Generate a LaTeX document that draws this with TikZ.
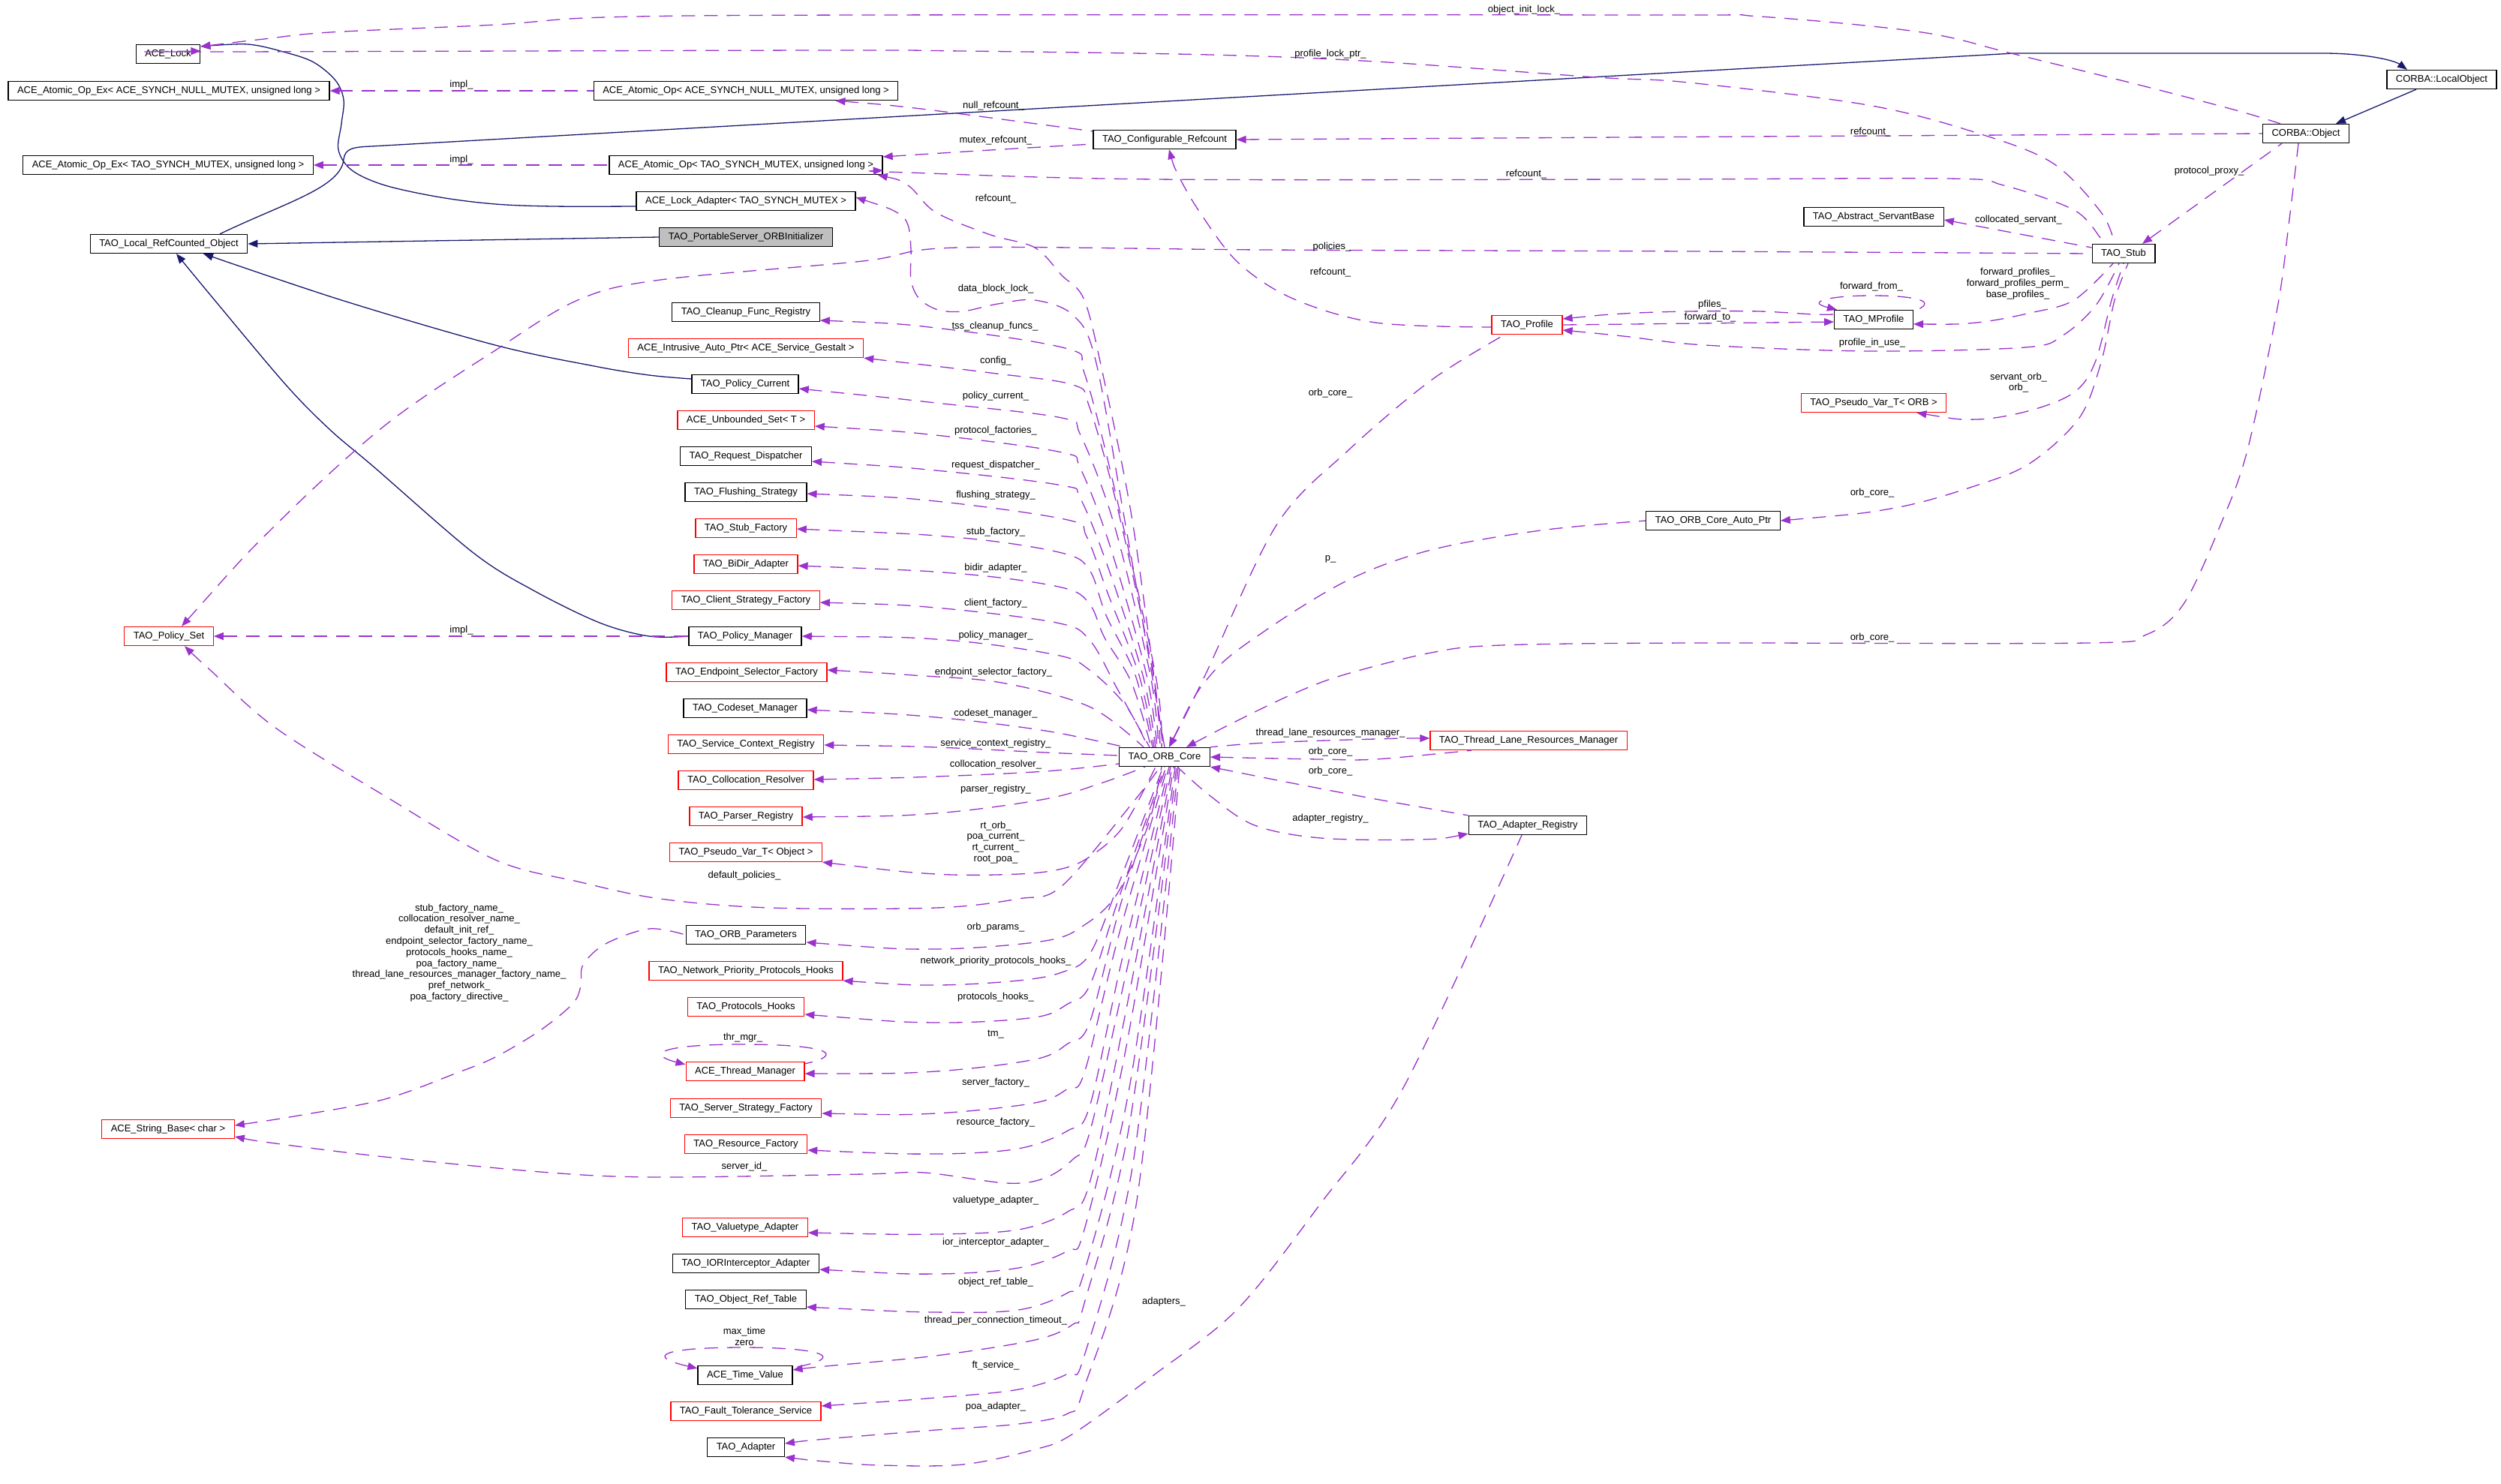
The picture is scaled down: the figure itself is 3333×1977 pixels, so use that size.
\documentclass[tikz,border=0pt]{standalone}
\usepackage{fontspec}
\setmainfont{Liberation Sans}
\usetikzlibrary{arrows.meta,calc}
\definecolor{edgep}{HTML}{9A32CD}
\definecolor{navyc}{HTML}{191970}
\newcommand\fs{\fontsize{6.5pt}{7.4pt}\selectfont}
\begin{document}
\begin{tikzpicture}[x=0.5pt,y=-0.5pt,
  box/.style={draw=black,line width=0.65pt,fill=white,font=\fs,minimum height=12.5pt,inner xsep=6pt,inner ysep=0pt},
  rbox/.style={box,draw=red},
  gbox/.style={box,fill=black!25},
  lbl/.style={font=\fs,inner sep=0pt,align=center},
  inh/.style={draw=navyc,line width=0.65pt,arrows={-Triangle[length=6.5pt,width=5pt]}},
  mem/.style={draw=edgep,line width=0.65pt,dash pattern=on 9pt off 6pt,arrows={Triangle[length=6.5pt,width=5pt]-}},
  sm/.style={smooth,tension=0.55}
]
\fill[white] (0,0) rectangle (3333,1977);
\useasboundingbox (0,0) rectangle (3333,1977);

% ---------------- nodes ----------------
\node[box]  (Lock)       at (224,72)   {ACE\_Lock};
\node[box]  (AtomExNull) at (225,121)  {ACE\_Atomic\_Op\_Ex< ACE\_SYNCH\_NULL\_MUTEX, unsigned long >};
\node[box]  (AtomExTAO)  at (224,220)  {ACE\_Atomic\_Op\_Ex< TAO\_SYNCH\_MUTEX, unsigned long >};
\node[box]  (LRO)        at (225,325)  {TAO\_Local\_RefCounted\_Object};
\node[rbox] (PolicySet)  at (225,848)  {TAO\_Policy\_Set};
\node[rbox] (StrBase)    at (224,1505) {ACE\_String\_Base< char >};

\node[box]  (AtomNull)   at (994,121)  {ACE\_Atomic\_Op< ACE\_SYNCH\_NULL\_MUTEX, unsigned long >};
\node[box]  (AtomTAO)    at (994,220)  {ACE\_Atomic\_Op< TAO\_SYNCH\_MUTEX, unsigned long >};
\node[box]  (LockAd)     at (994,268)  {ACE\_Lock\_Adapter< TAO\_SYNCH\_MUTEX >};
\node[gbox] (PSOI)       at (994,316)  {TAO\_PortableServer\_ORBInitializer};
\node[box]  (Cleanup)    at (994,416)  {TAO\_Cleanup\_Func\_Registry};
\node[rbox] (Intrusive)  at (994,464)  {ACE\_Intrusive\_Auto\_Ptr< ACE\_Service\_Gestalt >};
\node[box]  (PolCur)     at (993,512)  {TAO\_Policy\_Current};
\node[rbox] (Unbounded)  at (994,560)  {ACE\_Unbounded\_Set< T >};
\node[box]  (ReqDisp)    at (994,608)  {TAO\_Request\_Dispatcher};
\node[box]  (Flush)      at (994,656)  {TAO\_Flushing\_Strategy};
\node[rbox] (StubFac)    at (994,704)  {TAO\_Stub\_Factory};
\node[rbox] (BiDir)      at (994,752)  {TAO\_BiDir\_Adapter};
\node[rbox] (ClientFac)  at (994,800)  {TAO\_Client\_Strategy\_Factory};
\node[box]  (PolMgr)     at (993,848)  {TAO\_Policy\_Manager};
\node[rbox] (EndSel)     at (995,896)  {TAO\_Endpoint\_Selector\_Factory};
\node[box]  (Codeset)    at (993,944)  {TAO\_Codeset\_Manager};
\node[rbox] (SvcCtx)     at (994,992)  {TAO\_Service\_Context\_Registry};
\node[rbox] (Colloc)     at (994,1040) {TAO\_Collocation\_Resolver};
\node[rbox] (Parser)     at (994,1088) {TAO\_Parser\_Registry};
\node[rbox] (PVObj)      at (994,1136) {TAO\_Pseudo\_Var\_T< Object >};
\node[box]  (ORBParams)  at (994,1246) {TAO\_ORB\_Parameters};
\node[rbox] (NetPrio)    at (994,1294) {TAO\_Network\_Priority\_Protocols\_Hooks};
\node[rbox] (ProtHooks)  at (994,1342) {TAO\_Protocols\_Hooks};
\node[rbox] (ThrMgr)     at (993,1428) {ACE\_Thread\_Manager};
\node[rbox] (SrvStrat)   at (994,1477) {TAO\_Server\_Strategy\_Factory};
\node[rbox] (ResFac)     at (994,1525) {TAO\_Resource\_Factory};
\node[rbox] (Valuetype)  at (993,1636) {TAO\_Valuetype\_Adapter};
\node[box]  (IORInt)     at (994,1684) {TAO\_IORInterceptor\_Adapter};
\node[box]  (ObjRef)     at (994,1732) {TAO\_Object\_Ref\_Table};
\node[box]  (TimeVal)    at (993,1833) {ACE\_Time\_Value};
\node[rbox] (FT)         at (994,1881) {TAO\_Fault\_Tolerance\_Service};
\node[box]  (Adapter)    at (994,1929) {TAO\_Adapter};

\node[box]  (CfgRef)     at (1552,186) {TAO\_Configurable\_Refcount};
\node[box]  (ORB)        at (1552,1009) {TAO\_ORB\_Core};

\node[rbox] (Profile)    at (2035,433) {TAO\_Profile};
\node[rbox] (TLRM)       at (2037,987) {TAO\_Thread\_Lane\_Resources\_Manager};
\node[box]  (AR)         at (2036,1100) {TAO\_Adapter\_Registry};

\node[box]  (ServantBase) at (2497,289) {TAO\_Abstract\_ServantBase};
\node[box]  (MProfile)   at (2497,426) {TAO\_MProfile};
\node[rbox] (PVORB)      at (2497,537) {TAO\_Pseudo\_Var\_T< ORB >};
\node[box]  (AutoPtr)    at (2283,694) {TAO\_ORB\_Core\_Auto\_Ptr};

\node[box]  (Stub)       at (2830,338) {TAO\_Stub};
\node[box]  (Object)     at (3073,178) {CORBA::Object};
\node[box]  (LocalObj)   at (3254,106) {CORBA::LocalObject};

% ---------------- inheritance ----------------
\draw[inh] plot[sm] coordinates {([yshift=-3.5pt]LockAd.west) (737,275) (660,272) (587,263) (513,247) (469,227) (451,200) (455,165) (458,133) (447,107) (418,83) (381,70) (330,59) ([yshift=5pt]Lock.east)};
\draw[inh] ([xshift=34pt]LRO.north) .. controls (380,270) and (455,250) .. (458,212) .. controls (460,198) and (470,196) .. (495,195) -- (2684,71) -- (3096,71) .. controls (3150,71) and (3190,80) .. ([xshift=-23pt]LocalObj.north);
\draw[inh] (PSOI.west) -- (LRO.east);
\draw[inh] plot[sm] coordinates {([yshift=3.5pt]PolCur.west) (865,500) (792,488) (660,460) (455,400) ([xshift=23pt]LRO.south)};
\draw[inh] plot[sm] coordinates {(PolMgr.west) (865,848) (799,830) (711,787) (631,737) (499,623) (440,573) (381,513) (286,400) ([xshift=5pt]LRO.south)};
\draw[inh] ([xshift=-17pt]LocalObj.south) -- ([xshift=20pt]Object.north);

% ---------------- members: upper area ----------------
\draw[mem] plot[sm] coordinates {([yshift=5pt]Lock.east) (352,52) (440,43) (660,33) (807,23) (1150,20) (2200,20) (2345,22) (2561,43) (2684,72) (2850,113) (2980,147) ([xshift=-17pt]Object.north)};
\node[lbl] (l1) at (2031,13) {object\_init\_lock\_};
\draw[mem] plot[sm] coordinates {([yshift=2pt]Lock.east) (293,69) (1100,67) (1283,68) (1613,73) (1833,82) (2127,103) (2250,110) (2489,140) (2634,177) (2735,217) (2800,283) ([xshift=-6pt]Stub.north)};
\node[lbl] (l2) at (1773,72) {profile\_lock\_ptr\_};
\draw[mem] (AtomExNull.east) -- (AtomNull.west);
\node[lbl] (l3) at (615,113) {impl\_};
\draw[mem] (AtomExTAO.east) -- (AtomTAO.west);
\node[lbl] (l4) at (615,213) {impl\_};
\draw[mem] (PolicySet.east) -- (PolMgr.west);
\node[lbl] (l5) at (615,840) {impl\_};
\draw[mem] plot[sm] coordinates {([xshift=-42pt]AtomNull.south east) (1210,143) (1320,157) ([yshift=5.5pt]CfgRef.west)};
\node[lbl] (l6) at (1324,141) {null\_refcount\_};
\draw[mem] plot[sm] coordinates {([yshift=5.5pt]AtomTAO.east) (1320,200) ([yshift=-3pt]CfgRef.west)};
\node[lbl] (l7) at (1327,187) {mutex\_refcount\_};
\draw[mem] (CfgRef.east) -- (Object.west);
\node[lbl] (l8) at (2493,176) {refcount\_};
\draw[mem] plot[sm] coordinates {([yshift=-3.5pt]AtomTAO.east) (1210,230) (1540,239) (2200,239) (2597,238) (2670,247) (2764,280) (2800,318) ([xshift=-12pt]Stub.north)};
\node[lbl] (l9) at (2034,232) {refcount\_};
\draw[mem] plot[sm] coordinates {([xshift=3pt]CfgRef.south) (1570,233) (1599,283) (1650,350) (1723,398) (1833,430) ([yshift=-1.5pt]Profile.west)};
\node[lbl] (l10) at (1773,363) {refcount\_};
\draw[mem] plot[sm] coordinates {([xshift=8.5pt]PolicySet.north) (367,700) (513,567) (660,467) (770,400) (880,373) (1150,348) (1276,330) (1687,333) (2250,335) (Stub.west)};
\node[lbl] (l11) at (1775,329) {policies\_};
\draw[mem] ([yshift=-2pt]ServantBase.east) -- ([yshift=4pt]Stub.west);
\node[lbl] (l12) at (2690,293) {collocated\_servant\_};
\draw[mem] ([xshift=12.5pt]Stub.north) -- ([xshift=-16pt]Object.south);
\node[lbl] (l13) at (2944,228) {protocol\_proxy\_};
\draw[mem] plot[sm] coordinates {([xshift=14.5pt]ORB.north) (1650,960) (1723,925) (1789,900) (1907,870) (2000,860) (2250,857) (2780,857) (2860,846) (2910,805) (2959,700) (2995,600) (3035,410) (3050,300) ([xshift=-5pt]Object.south)};
\node[lbl] (l14) at (2495,850) {orb\_core\_};
\draw[mem] plot[sm] coordinates {([yshift=-3pt]MProfile.east) (2634,430) (2706,417) (2764,400) ([xshift=-7pt]Stub.south)};
\node[lbl] (l15) at (2689,378) {forward\_profiles\_\\forward\_profiles\_perm\_\\base\_profiles\_};
\draw[mem] plot[sm] coordinates {([yshift=-3.5pt]Profile.east) (2163,448) (2272,460) (2489,468) (2699,463) (2749,447) (2793,407) ([xshift=-3pt]Stub.south)};
\node[lbl] (l16) at (2495,457) {profile\_in\_use\_};
\draw[mem] plot[sm] coordinates {([xshift=-20pt]PVORB.south east) (2634,559) (2706,547) (2764,523) (2792,483) (2814,400) (Stub.south)};
\node[lbl] (l17) at (2690,510) {servant\_orb\_\\orb\_};
\draw[mem] plot[sm] coordinates {(AutoPtr.east) (2525,677) (2634,647) (2706,617) (2771,557) (2800,483) (2818,400) ([xshift=3pt]Stub.south)};
\node[lbl] (l18) at (2495,657) {orb\_core\_};
\draw[mem] ([xshift=2pt]MProfile.north west) .. controls (2405,402) and (2440,394) .. (2494,394) .. controls (2555,394) and (2585,402) .. ([yshift=-1pt]MProfile.north east);
\node[lbl] (l19) at (2494,382) {forward\_from\_};
\draw[mem] plot[sm] coordinates {([yshift=4pt]Profile.east) (2163,418) (2250,415) (2345,415) (2417,419) ([yshift=3.5pt]MProfile.west)};
\node[lbl] (l20) at (2282,406) {pfiles\_};
\draw[mem] ([yshift=-1.5pt]MProfile.west) -- (Profile.east);
\node[lbl] (l21) at (2279,423) {forward\_to\_};
\draw[mem] plot[sm] coordinates {([xshift=3pt]ORB.north) (1606,900) (1701,700) (1797,600) (1907,507) ([xshift=-15pt]Profile.south)};
\node[lbl] (l22) at (1773,524) {orb\_core\_};
\draw[mem] plot[sm] coordinates {([xshift=3pt]ORB.north) (1613,900) (1687,840) (1797,773) (1907,733) (2053,707) (AutoPtr.west)};
\node[lbl] (l23) at (1773,745) {p\_};
\draw[mem] plot[sm] coordinates {([yshift=1.5pt]TLRM.west) (1833,985) (1687,990) (ORB.north east)};
\node[lbl] (l24) at (1773,977) {thread\_lane\_resources\_manager\_};
\draw[mem] plot[sm] coordinates {(ORB.east) (1760,1012) (1833,1012) ([xshift=-38pt]TLRM.south)};
\node[lbl] (l25) at (1773,1002) {orb\_core\_};
\draw[mem] plot[sm] coordinates {(ORB.south east) (1723,1044) (1833,1065) (AR.north west)};
\node[lbl] (l26) at (1773,1028) {orb\_core\_};
\draw[mem] plot[sm] coordinates {([yshift=1pt]AR.south west) (1892,1119) (1760,1117) (1672,1100) (1613,1061) ([xshift=8.5pt]ORB.south)};
\node[lbl] (l27) at (1773,1091) {adapter\_registry\_};
\draw[mem] plot[sm] coordinates {(Adapter.south east) (1100,1948) (1173,1953) (1283,1952) (1379,1932) (1430,1911) (1540,1831) (1650,1744) (1760,1604) (1870,1450) ([xshift=-4pt]AR.south)};
\node[lbl] (l28) at (1551,1735) {adapters\_};

% ORB_Core refcount_ / data_block_lock_
\draw[mem] plot[sm] coordinates {([xshift=-3.5pt]AtomTAO.south east) (1210,247) (1247,283) (1320,313) (1379,330) (1415,367) (1445,400) (1470,500) (1510,700) ([xshift=-1pt]ORB.north)};
\node[lbl] (l29) at (1327,265) {refcount\_};
\draw[mem] plot[sm] coordinates {([yshift=2.5pt]LockAd.east) (1195,283) (1210,300) (1214,333) (1214,373) (1225,398) (1250,413) (1283,415) (1330,405) (1379,400) (1430,420) (1460,480) (1500,700) (ORB.north)};
\node[lbl] (l30) at (1327,385) {data\_block\_lock\_};

% ---------------- ORB_Core to upper left column ----------------
\draw[mem] plot[sm] coordinates {([yshift=-5.5pt]Cleanup.east) (1247,437) (1423,465) (1445,497) (1481,633) (1540,900) ([xshift=-2pt]ORB.north)};
\node[lbl] (l31) at (1326,435) {tss\_cleanup\_funcs\_};
\draw[mem] plot[sm] coordinates {(Intrusive.south east) (1320,497) (1430,513) (1452,543) (1490,680) (1537,900) ([xshift=-3pt]ORB.north)};
\node[lbl] (l32) at (1327,481) {config\_};
\draw[mem] plot[sm] coordinates {([yshift=-3pt]PolCur.east) (1247,537) (1415,557) (1440,580) (1485,700) (1533,900) ([xshift=-4pt]ORB.north)};
\node[lbl] (l33) at (1327,528) {policy\_current\_};
\draw[mem] plot[sm] coordinates {([yshift=-4pt]Unbounded.east) (1247,580) (1415,603) (1440,625) (1480,730) (1528,900) ([xshift=-5pt]ORB.north)};
\node[lbl] (l34) at (1327,574) {protocol\_factories\_};
\draw[mem] plot[sm] coordinates {([yshift=-3.5pt]ReqDisp.east) (1247,627) (1415,647) (1440,665) (1478,760) (1523,900) ([xshift=-6pt]ORB.north)};
\node[lbl] (l35) at (1327,620) {request\_dispatcher\_};
\draw[mem] plot[sm] coordinates {([yshift=-1pt]Flush.east) (1247,668) (1423,693) (1448,715) (1476,790) (1518,900) ([xshift=-7pt]ORB.north)};
\node[lbl] (l36) at (1327,660) {flushing\_strategy\_};
\draw[mem] plot[sm] coordinates {([yshift=-0.5pt]StubFac.east) (1283,717) (1415,737) (1452,760) (1474,820) (1513,900) ([xshift=-8pt]ORB.north)};
\node[lbl] (l37) at (1327,709) {stub\_factory\_};
\draw[mem] plot[sm] coordinates {([yshift=-1pt]BiDir.east) (1283,765) (1415,783) (1452,805) (1472,850) (1508,910) ([xshift=-9pt]ORB.north)};
\node[lbl] (l38) at (1327,757) {bidir\_adapter\_};
\draw[mem] plot[sm] coordinates {([yshift=-1.5pt]ClientFac.east) (1247,810) (1408,830) (1452,853) (1490,920) ([xshift=-10pt]ORB.north)};
\node[lbl] (l39) at (1327,804) {client\_factory\_};
\draw[mem] plot[sm] coordinates {(PolMgr.east) (1261,853) (1408,873) (1452,893) (1500,940) ([xshift=-11pt]ORB.north)};
\node[lbl] (l40) at (1327,847) {policy\_manager\_};
\draw[mem] plot[sm] coordinates {([yshift=1.5pt]EndSel.east) (1217,900) (1335,910) (1452,942) ([xshift=-14pt]ORB.north)};
\node[lbl] (l41) at (1324,896) {endpoint\_selector\_factory\_};
\draw[mem] plot[sm] coordinates {([yshift=-1pt]Codeset.east) (1247,956) (1393,974) ([xshift=4pt]ORB.north west)};
\node[lbl] (l42) at (1327,951) {codeset\_manager\_};
\draw[mem] plot[sm] coordinates {([yshift=-0.5pt]SvcCtx.east) (1247,996) (1393,1003) ([yshift=1pt]ORB.west)};
\node[lbl] (l43) at (1327,991) {service\_context\_registry\_};
\draw[mem] plot[sm] coordinates {([yshift=0.5pt]Colloc.east) (1247,1035) (1393,1028) ([yshift=-4.5pt]ORB.west)};
\node[lbl] (l44) at (1327,1019) {collocation\_resolver\_};
\draw[mem] plot[sm] coordinates {([yshift=-0.5pt]Parser.east) (1247,1084) (1393,1065) (1467,1044) ([xshift=-13pt]ORB.south)};
\node[lbl] (l45) at (1327,1052) {parser\_registry\_};
\draw[mem] plot[sm] coordinates {(PVObj.south east) (1247,1165) (1357,1165) (1415,1158) (1452,1142) (1496,1103) ([xshift=-6pt]ORB.south)};
\node[lbl] (l46) at (1327,1123) {rt\_orb\_\\poa\_current\_\\rt\_current\_\\root\_poa\_};
\draw[mem] plot[sm] coordinates {([xshift=10.5pt]PolicySet.south) (279,892) (367,970) (513,1061) (660,1146) (770,1175) (880,1198) (1027,1210) (1247,1210) (1357,1198) (1415,1181) (1511,1068) ([xshift=-3pt]ORB.south)};
\node[lbl] (l47) at (992,1167) {default\_policies\_};

% ---------------- ORB_Core to lower left column ----------------
\draw[mem] plot[sm] coordinates {([yshift=-5pt]ORBParams.east) (1247,1265) (1393,1254) (1445,1233) (1489,1191) (1530,1100) ([xshift=-2pt]ORB.south)};
\node[lbl] (l48) at (1327,1236) {orb\_params\_};
\draw[mem] plot[sm] coordinates {([yshift=2.5pt]StrBase.east) (403,1486) (513,1465) (609,1430) (660,1409) (719,1374) (763,1338) (774,1314) (777,1286) (807,1258) (865,1238) (ORBParams.west)};
\node[lbl] (l49) at (612,1270) {stub\_factory\_name\_\\collocation\_resolver\_name\_\\default\_init\_ref\_\\endpoint\_selector\_factory\_name\_\\protocols\_hooks\_name\_\\poa\_factory\_name\_\\thread\_lane\_resources\_manager\_factory\_name\_\\pref\_network\_\\poa\_factory\_directive\_};
\draw[mem] plot[sm] coordinates {(NetPrio.south east) (1247,1313) (1357,1307) (1415,1296) (1452,1272) (1490,1180) ([xshift=-1pt]ORB.south)};
\node[lbl] (l50) at (1327,1281) {network\_priority\_protocols\_hooks\_};
\draw[mem] plot[sm] coordinates {([yshift=-5pt]ProtHooks.east) (1247,1363) (1379,1356) (1423,1338) (1452,1314) (1490,1200) (ORB.south)};
\node[lbl] (l51) at (1327,1329) {protocols\_hooks\_};
\draw[mem] plot[sm] coordinates {([yshift=-1.5pt]ThrMgr.east) (1247,1428) (1379,1412) (1423,1391) (1452,1363) (1495,1200) ([xshift=1pt]ORB.south)};
\node[lbl] (l52) at (1327,1379) {tm\_};
\draw[mem] ([yshift=-2pt]ThrMgr.north west) .. controls (860,1405) and (880,1392) .. (990,1392) .. controls (1100,1392) and (1130,1405) .. ([yshift=-1.5pt]ThrMgr.north east);
\node[lbl] (l53) at (990,1383) {thr\_mgr\_};
\draw[mem] plot[sm] coordinates {([yshift=-3.5pt]SrvStrat.east) (1247,1484) (1379,1470) (1423,1451) (1445,1430) (1490,1250) ([xshift=2pt]ORB.south)};
\node[lbl] (l54) at (1327,1443) {server\_factory\_};
\draw[mem] plot[sm] coordinates {([yshift=-4pt]ResFac.east) (1247,1538) (1357,1531) (1423,1507) (1452,1475) (1495,1280) ([xshift=3pt]ORB.south)};
\node[lbl] (l55) at (1327,1496) {resource\_factory\_};
\draw[mem] plot[sm] coordinates {([yshift=-5pt]StrBase.east) (367,1524) (513,1542) (733,1563) (880,1569) (1150,1565) (1232,1563) (1342,1577) (1393,1570) (1430,1545) (1452,1510) (1500,1300) ([xshift=4pt]ORB.south)};
\node[lbl] (l56) at (992,1555) {server\_id\_};
\draw[mem] plot[sm] coordinates {([yshift=-3.5pt]Valuetype.east) (1247,1645) (1357,1639) (1423,1615) (1452,1577) (1500,1350) ([xshift=5pt]ORB.south)};
\node[lbl] (l57) at (1327,1600) {valuetype\_adapter\_};
\draw[mem] plot[sm] coordinates {([yshift=-4pt]IORInt.east) (1247,1698) (1357,1690) (1423,1667) (1445,1639) (1500,1400) ([xshift=6pt]ORB.south)};
\node[lbl] (l58) at (1327,1656) {ior\_interceptor\_adapter\_};
\draw[mem] plot[sm] coordinates {([yshift=-5pt]ObjRef.east) (1247,1749) (1357,1746) (1423,1723) (1445,1695) (1505,1450) ([xshift=7pt]ORB.south)};
\node[lbl] (l59) at (1327,1709) {object\_ref\_table\_};
\draw[mem] plot[sm] coordinates {([yshift=3.5pt]TimeVal.east) (1100,1821) (1247,1807) (1379,1786) (1430,1765) (1445,1737) (1505,1500) ([xshift=8pt]ORB.south)};
\node[lbl] (l60) at (1327,1760) {thread\_per\_connection\_timeout\_};
\draw[mem] ([yshift=-2pt]TimeVal.north west) .. controls (860,1808) and (880,1796) .. (990,1796) .. controls (1100,1796) and (1130,1810) .. ([yshift=-1.5pt]TimeVal.north east);
\node[lbl] (l61) at (992,1781) {max\_time\\zero};
\draw[mem] plot[sm] coordinates {([yshift=3.5pt]FT.east) (1247,1863) (1357,1852) (1423,1831) (1445,1807) (1510,1550) ([xshift=9pt]ORB.south)};
\node[lbl] (l62) at (1327,1820) {ft\_service\_};
\draw[mem] plot[sm] coordinates {([yshift=2.5pt]Adapter.east) (1100,1918) (1247,1906) (1357,1898) (1423,1884) (1445,1849) (1515,1600) ([xshift=10pt]ORB.south)};
\node[lbl] (l63) at (1327,1875) {poa\_adapter\_};
\end{tikzpicture}
\end{document}
